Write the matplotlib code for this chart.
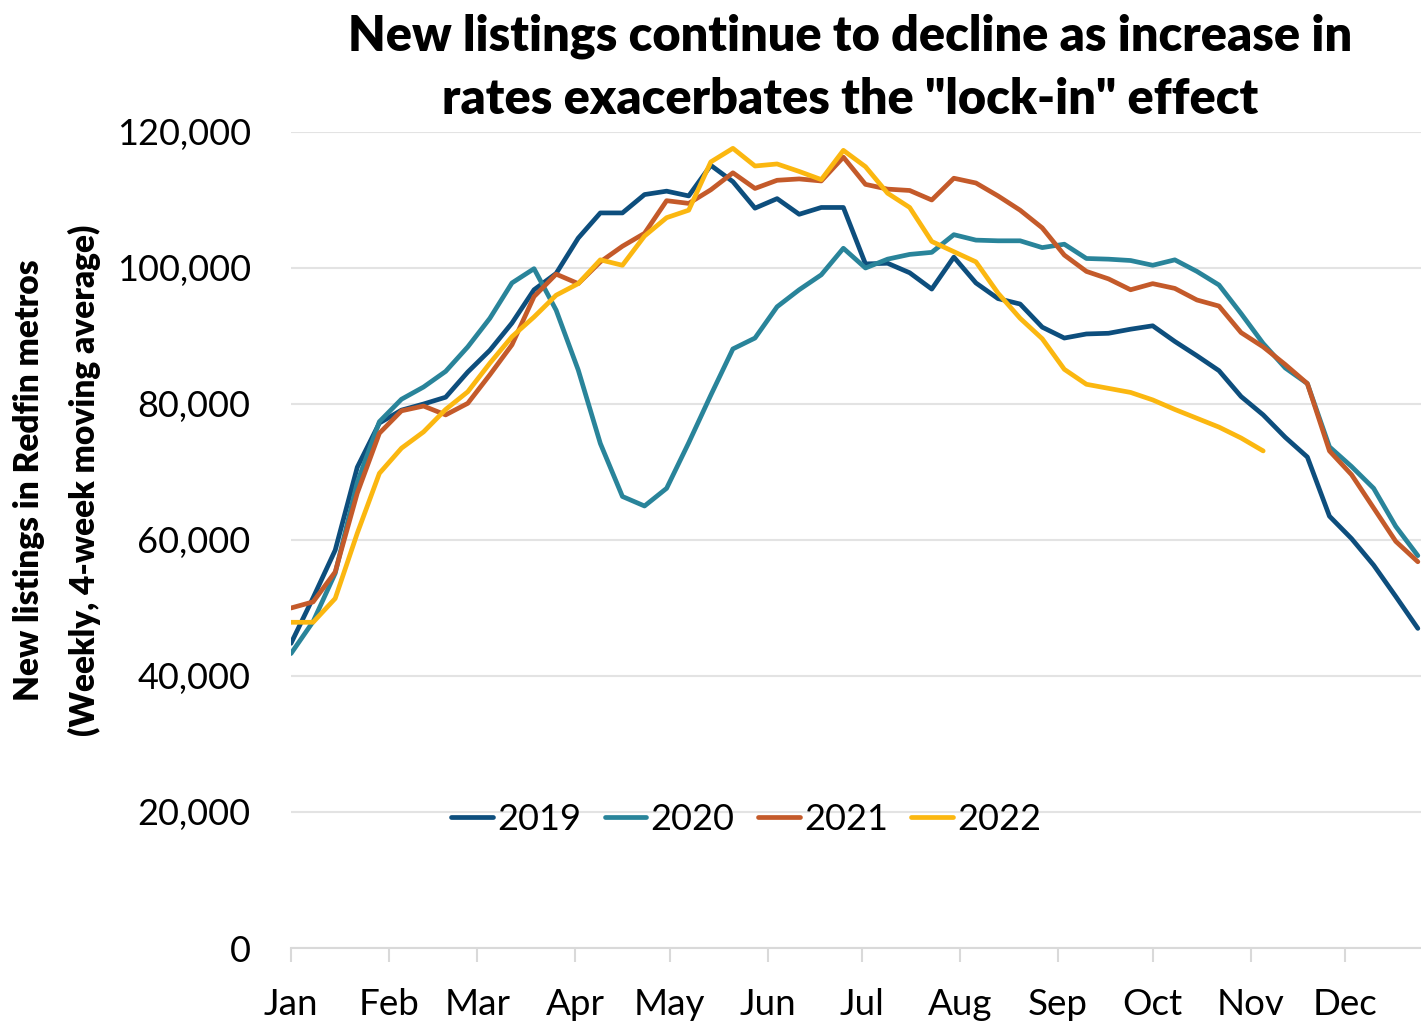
import numpy as np
from matplotlib import pyplot as plt

# weekly new listings, 4-week moving average
y2019 = [44800, 51500, 58500, 70700, 77200, 79100, 80000, 81000, 84700, 87900,
         91900, 96800, 99200, 104400, 108100, 108100, 110800, 111300, 110600, 115100,
         112700, 108800, 110200, 107900, 108900, 108900, 100600, 100700, 99300, 96900,
         101600, 97800, 95500, 94700, 91300, 89700, 90300, 90400, 91000, 91500,
         89200, 87100, 84900, 81100, 78400, 75100, 72200, 63500, 60200, 56300,
         51700, 47000]
y2020 = [43300, 48000, 55100, 68500, 77400, 80700, 82500, 84800, 88400, 92600,
         97800, 99900, 93800, 85000, 74200, 66400, 65000, 67600, 74300, 81300,
         88100, 89700, 94300, 96800, 99000, 102900, 100000, 101300, 102000, 102300,
         104900, 104100, 104000, 104000, 103000, 103500, 101400, 101300, 101100, 100400,
         101200, 99500, 97500, 93300, 88900, 85300, 83000, 73700, 70800, 67600,
         62000, 57700]
y2021 = [50000, 50900, 55300, 66900, 75700, 79000, 79700, 78400, 80100, 84300,
         88700, 95800, 99100, 97700, 100900, 103200, 105100, 109900, 109500, 111500,
         114000, 111700, 112900, 113100, 112800, 116300, 112300, 111600, 111400, 110000,
         113200, 112500, 110600, 108500, 105900, 101900, 99500, 98400, 96800, 97700,
         97000, 95300, 94400, 90500, 88400, 85800, 83000, 73100, 69600, 64700,
         59800, 56800]
y2022 = [47900, 47900, 51400, 61000, 69800, 73500, 75900, 79200, 81800, 86000,
         89900, 92800, 96000, 97700, 101200, 100400, 104700, 107400, 108500, 115600,
         117600, 115000, 115300, 114200, 113000, 117300, 114900, 111000, 108900, 103900,
         102400, 100900, 96300, 92600, 89600, 85100, 82900, 82300, 81700, 80600,
         79200, 77900, 76600, 75000, 73100]

series = {'2019': (y2019, '#0d4e7d'),
          '2020': (y2020, '#29849a'),
          '2021': (y2021, '#c45a2a'),
          '2022': (y2022, '#fbb710')}

month_days = [0, 31, 59, 90, 120, 151, 181, 212, 243, 273, 304, 334]
month_labels = ['Jan', 'Feb', 'Mar', 'Apr', 'May', 'Jun',
                'Jul', 'Aug', 'Sep', 'Oct', 'Nov', 'Dec']
yticks = [0, 20000, 40000, 60000, 80000, 100000, 120000]

plt.rcParams['font.family'] = ['Lato', 'DejaVu Sans']

fig = plt.figure(figsize=(14.21, 10.31), dpi=100)
ax = fig.add_axes([291 / 1421, 1 - 948 / 1031, 1 - 291 / 1421, (948 - 132) / 1031])

for name, (vals, col) in series.items():
    days = np.arange(len(vals)) * 7
    ax.plot(days, vals, color=col, lw=3.4, label=name,
            solid_joinstyle='round', solid_capstyle='round')

ax.set_xlim(0, 358)
ax.set_ylim(0, 120000)
ax.set_xticks(month_days)
ax.set_xticklabels(month_labels)
ax.set_yticks(yticks)
ax.set_yticklabels(['{:,}'.format(v) for v in yticks])
ax.grid(axis='y', color='#e3e3e3', lw=1.5)
ax.set_axisbelow(True)
for s in ['top', 'right', 'left']:
    ax.spines[s].set_visible(False)
ax.spines['bottom'].set_color('#d9d9d9')
ax.spines['bottom'].set_linewidth(1.5)
ax.tick_params(axis='x', length=10, width=1.5, color='#d9d9d9', labelsize=26.5, pad=19)
ax.tick_params(axis='y', length=0, labelsize=26, pad=29)

ax.legend(loc='center left', bbox_to_anchor=(0.142, 0.158), ncol=4, frameon=False,
          fontsize=26, handlelength=1.15, handletextpad=0.12, columnspacing=0.65,
          borderpad=0, borderaxespad=0)

fig.text(850 / 1421, 1 - 68 / 1031,
         'New listings continue to decline as increase in\nrates exacerbates the "lock-in" effect',
         ha='center', va='center', fontsize=35, fontweight='heavy', linespacing=1.48)
fig.text(57 / 1421, 1 - 480 / 1031,
         'New listings in Redfin metros\n(Weekly, 4-week moving average)',
         ha='center', va='center', rotation=90, fontsize=24, fontweight='heavy',
         linespacing=1.85)

fig.savefig('out.png', dpi=100)
